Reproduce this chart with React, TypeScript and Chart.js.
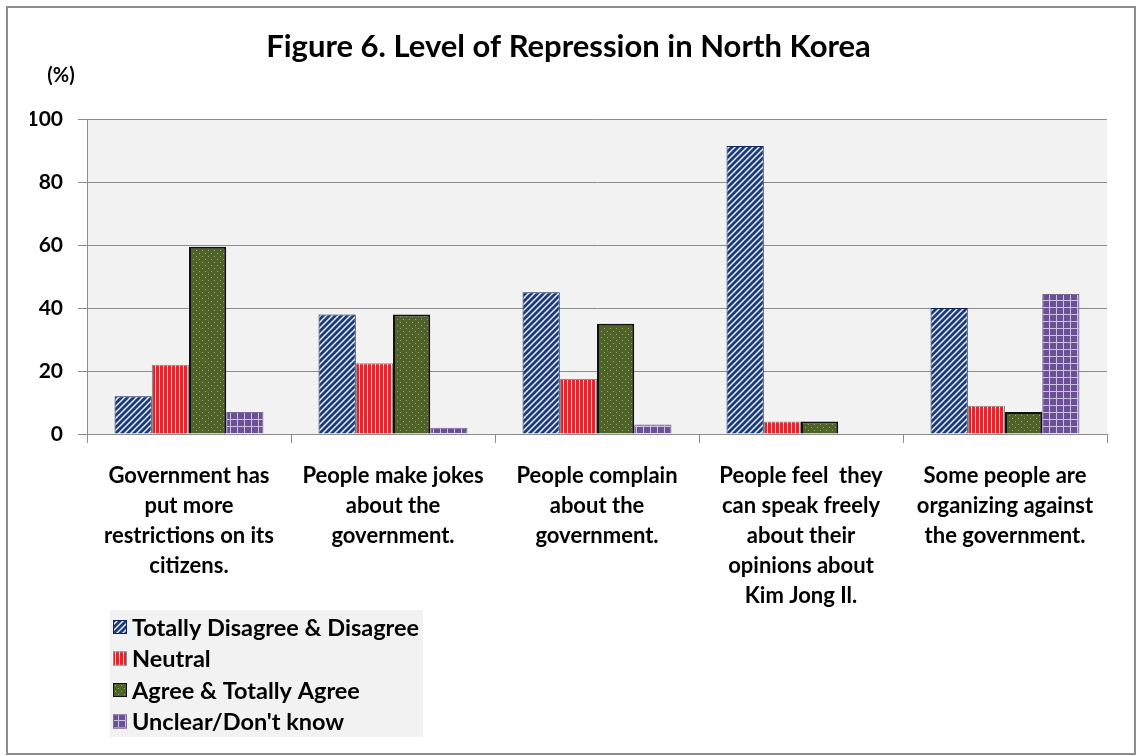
import React, { useEffect, useRef } from 'react';
import { Chart, registerables } from 'chart.js';

Chart.register(...registerables);

const categories: string[][] = [
  ['Government has', 'put more', 'restrictions on its', 'citizens.'],
  ['People make jokes', 'about the', 'government.'],
  ['People complain', 'about the', 'government.'],
  ['People feel  they', 'can speak freely', 'about their', 'opinions about', 'Kim Jong Il.'],
  ['Some people are', 'organizing against', 'the government.'],
];
const seriesNames = ['Totally Disagree & Disagree', 'Neutral', 'Agree & Totally Agree', "Unclear/Don't know"];
const disagree = [12, 38, 45, 91.5, 40];
const neutral = [22, 22.5, 17.5, 4, 9];
const agree = [59.5, 38, 35, 4, 7];
const unclear = [7, 2, 3, 0, 44.5];
const yTicks = [0, 20, 40, 60, 80, 100];

const FONT = 'Lato, "Open Sans", "DejaVu Sans", sans-serif';

function makePattern(w: number, h: number, draw: (c: CanvasRenderingContext2D) => void) {
  const cv = document.createElement('canvas');
  cv.width = w;
  cv.height = h;
  const c = cv.getContext('2d')!;
  draw(c);
  return c.createPattern(cv, 'repeat')!;
}

function buildPatterns() {
  const blue = makePattern(6, 6, (c) => {
    c.fillStyle = '#1b3a78';
    c.fillRect(0, 0, 6, 6);
    c.strokeStyle = '#e8eef8';
    c.lineWidth = 1.5;
    c.beginPath();
    c.moveTo(-1, 7); c.lineTo(7, -1);
    c.moveTo(-4, 4); c.lineTo(4, -4);
    c.moveTo(2, 10); c.lineTo(10, 2);
    c.stroke();
  });
  const red = makePattern(4, 4, (c) => {
    c.fillStyle = '#e3262e';
    c.fillRect(0, 0, 4, 4);
    c.fillStyle = '#fbe3e3';
    c.fillRect(3, 0, 1, 4);
  });
  const green = makePattern(6, 6, (c) => {
    c.fillStyle = '#4f6228';
    c.fillRect(0, 0, 6, 6);
    c.fillStyle = '#93a86a';
    c.fillRect(1, 1, 1, 1);
    c.fillRect(4, 4, 1, 1);
  });
  const purple = makePattern(7, 7, (c) => {
    c.fillStyle = '#6c5096';
    c.fillRect(0, 0, 7, 7);
    c.fillStyle = '#cbbfe2';
    c.fillRect(6, 0, 1, 7);
    c.fillRect(0, 6, 7, 1);
  });
  return [blue, red, green, purple];
}

const decorPlugin = {
  id: 'decor',
  beforeDraw(chart: any) {
    const { ctx, chartArea: a } = chart;
    ctx.save();
    ctx.fillStyle = '#ffffff';
    ctx.fillRect(0, 0, chart.width, chart.height);
    ctx.fillStyle = '#f2f2f2';
    ctx.fillRect(a.left, a.top, a.right - a.left, a.bottom - a.top);
    ctx.strokeStyle = '#8c8c8c';
    ctx.lineWidth = 2;
    ctx.strokeRect(7, 7, chart.width - 9, chart.height - 9);
    ctx.restore();
  },
  afterDraw(chart: any) {
    const { ctx } = chart;
    ctx.save();
    ctx.fillStyle = '#000';
    ctx.font = `bold 20px ${FONT}`;
    ctx.textAlign = 'center';
    ctx.textBaseline = 'middle';
    ctx.fillText('(%)', 61, 76);

    // legend
    const lx = 110, ly = 610, lw = 313, lh = 127;
    ctx.fillStyle = '#f2f2f2';
    ctx.fillRect(lx, ly, lw, lh);
    const rowH = 31.5;
    chart.data.datasets.forEach((ds: any, i: number) => {
      const cy = ly + 17 + i * rowH;
      ctx.fillStyle = ds.backgroundColor;
      ctx.fillRect(113, cy - 7, 14, 14);
      ctx.strokeStyle = ds.borderColor;
      ctx.lineWidth = 1;
      ctx.strokeRect(113.5, cy - 6.5, 13, 13);
      ctx.fillStyle = '#000';
      ctx.font = `bold 23.5px ${FONT}`;
      ctx.textAlign = 'left';
      ctx.textBaseline = 'middle';
      ctx.fillText(ds.label, 132, cy + 1);
    });
    ctx.restore();
  },
};

export default function App() {
  const ref = useRef<HTMLCanvasElement>(null);
  useEffect(() => {
    const pats = buildPatterns();
    const values = [disagree, neutral, agree, unclear];
    const borders = ['#0e2557', '#8a8a8a', '#111111', '#7a6a96'];
    const bw = [1, 1, 2, 1];
    const chart = new Chart(ref.current!, {
      type: 'bar',
      data: {
        labels: categories,
        datasets: seriesNames.map((name, i) => ({
          label: name,
          data: values[i],
          backgroundColor: pats[i],
          borderColor: borders[i],
          borderWidth: bw[i],
          categoryPercentage: 0.73,
          barPercentage: 1,
        })),
      },
      options: {
        responsive: false,
        animation: false,
        layout: { padding: { left: 30, right: 30, top: 0, bottom: 0 } },
        plugins: {
          legend: { display: false },
          tooltip: { enabled: false },
          title: {
            display: true,
            text: 'Figure 6. Level of Repression in North Korea',
            color: '#000',
            font: { family: FONT, size: 31, weight: 'bold' },
            padding: { top: 28, bottom: 54 },
          },
        },
        scales: {
          x: {
            grid: { drawOnChartArea: false, drawTicks: true, tickLength: 9, color: '#8c8c8c' },
            border: { color: '#8c8c8c', width: 1 },
            ticks: {
              color: '#000',
              font: { family: FONT, size: 22, weight: 'bold', lineHeight: 1.364 },
              padding: 18,
              maxRotation: 0,
              minRotation: 0,
              autoSkip: false,
            },
            afterFit(scale: any) { scale.height = 322; },
          },
          y: {
            min: yTicks[0],
            max: yTicks[yTicks.length - 1],
            grid: { color: '#8c8c8c', tickLength: 9 },
            border: { color: '#8c8c8c', width: 1 },
            ticks: {
              stepSize: yTicks[1] - yTicks[0],
              color: '#000',
              font: { family: FONT, size: 21, weight: 'bold' },
              padding: 15,
            },
            afterFit(scale: any) { scale.width = 57; },
          },
        },
      },
      plugins: [decorPlugin],
    });
    return () => chart.destroy();
  }, []);
  return (
    <div style={{ position: 'absolute', left: 0, top: 0, width: 1137, height: 756, background: '#fff' }}>
      <canvas ref={ref} width={1137} height={756} style={{ display: 'block', width: 1137, height: 756 }} />
    </div>
  );
}
